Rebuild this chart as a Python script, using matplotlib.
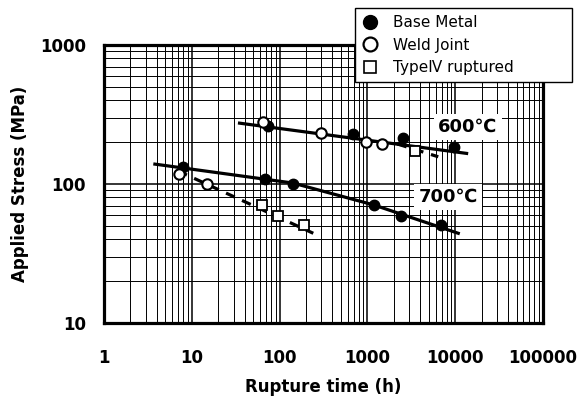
import matplotlib
matplotlib.use("Agg")
import matplotlib.pyplot as plt
from matplotlib.lines import Line2D
from matplotlib.ticker import NullFormatter, FixedLocator, FixedFormatter

plt.rcParams['font.family'] = ['DejaVu Sans', 'Noto Sans CJK JP']

# --- data (rupture time h, stress MPa) ---
base600_t = [74, 680, 2565, 9690]
base600_s = [261, 229, 213, 184]
weld600_t = [64, 294, 964, 1455]
weld600_s = [281, 232, 201, 194]
type4_600_t = [3485]
type4_600_s = [174]

base700_t = [8.0, 68, 141, 1190, 2395, 6840]
base700_s = [132, 108, 100, 70.6, 58.9, 50.7]
weld700_t = [7.2, 15.0]
weld700_s = [118, 99.5]
type4_700_t = [62.5, 96.7, 190]
type4_700_s = [70.6, 58.9, 50.7]

# fitted lines
fit600_t = [35, 13500]
fit600_s = [274, 166]
fit600w_t = [2200, 6420]
fit600w_s = [194, 157]
fit700_t = [3.8, 142, 1190, 10850]
fit700_s = [139, 101.6, 70.6, 44.2]
fit700w_t = [7.0, 242]
fit700w_s = [124, 44.2]

x_ticks = [1, 10, 100, 1000, 10000, 100000]
x_labels = ['1', '10', '100', '1000', '10000', '100000']
y_ticks = [10, 100, 1000]
y_labels = ['10', '100', '1000']

fig = plt.figure(figsize=(5.81, 4.0), dpi=100)
ax = fig.add_axes([0.179, 0.1925, 0.7555, 0.695])
ax.set_xscale('log')
ax.set_yscale('log')
ax.set_xlim(1, 1e5)
ax.set_ylim(10, 1000)

ax.xaxis.set_major_locator(FixedLocator(x_ticks))
ax.xaxis.set_major_formatter(FixedFormatter(x_labels))
ax.yaxis.set_major_locator(FixedLocator(y_ticks))
ax.yaxis.set_major_formatter(FixedFormatter(y_labels))
ax.xaxis.set_minor_formatter(NullFormatter())
ax.yaxis.set_minor_formatter(NullFormatter())

ax.grid(which='major', color='black', lw=1.1)
ax.grid(which='minor', color='black', lw=0.7)
ax.set_axisbelow(True)
ax.tick_params(which='both', length=0)
ax.tick_params(axis='x', pad=19, labelsize=12)
ax.tick_params(axis='y', pad=13, labelsize=12)
for lab in ax.get_xticklabels() + ax.get_yticklabels():
    lab.set_fontweight('bold')
for sp in ax.spines.values():
    sp.set_linewidth(2.3)

# lines
ax.plot(fit600_t, fit600_s, color='black', lw=2.3, zorder=3)
ax.plot(fit700_t, fit700_s, color='black', lw=2.3, zorder=3)
ax.plot(fit600w_t, fit600w_s, color='black', lw=2.3, ls=(0, (3, 2.5)), zorder=3)
ax.plot(fit700w_t, fit700w_s, color='black', lw=2.3, ls=(0, (3, 2.5)), zorder=3)

# markers
ms = 7.5
ax.plot(base600_t, base600_s, 'o', ms=ms, mfc='black', mec='black', zorder=4)
ax.plot(base700_t, base700_s, 'o', ms=ms, mfc='black', mec='black', zorder=4)
ax.plot(weld600_t, weld600_s, 'o', ms=ms, mfc='white', mec='black', mew=1.5, zorder=5)
ax.plot(weld700_t, weld700_s, 'o', ms=ms, mfc='white', mec='black', mew=1.5, zorder=5)
ax.plot(type4_600_t, type4_600_s, 's', ms=ms, mfc='white', mec='black', mew=1.3, zorder=5)
ax.plot(type4_700_t, type4_700_s, 's', ms=ms, mfc='white', mec='black', mew=1.3, zorder=5)

# temperature labels
box = dict(facecolor='white', edgecolor='none', pad=3)
ax.text(14000, 257, '600℃', ha='center', va='center', fontsize=13,
        fontweight='bold', bbox=box, zorder=6)
ax.text(8280, 80.5, '700℃', ha='center', va='center', fontsize=13,
        fontweight='bold', bbox=box, zorder=6)

ax.set_xlabel('Rupture time (h)', fontsize=12, fontweight='bold', labelpad=8)
ax.set_ylabel('Applied Stress (MPa)', fontsize=12, fontweight='bold', labelpad=8)

handles = [
    Line2D([], [], marker='o', ls='none', ms=10, mfc='black', mec='black'),
    Line2D([], [], marker='o', ls='none', ms=10, mfc='white', mec='black', mew=1.6),
    Line2D([], [], marker='s', ls='none', ms=9, mfc='white', mec='black', mew=1.2),
]
labels = ['Base Metal', 'Weld Joint', 'TypeⅣ ruptured']
leg = fig.legend(handles, labels, loc='upper left',
                 bbox_to_anchor=(0.611, 0.7925, 0.3735, 0.1875), mode='expand',
                 borderaxespad=0, fontsize=11, frameon=True, fancybox=False,
                 framealpha=1, edgecolor='black', labelspacing=0.5,
                 handlelength=1.0, handletextpad=1.05, borderpad=0.45)
leg.get_frame().set_linewidth(1.0)

fig.savefig('out.png', dpi=100)
